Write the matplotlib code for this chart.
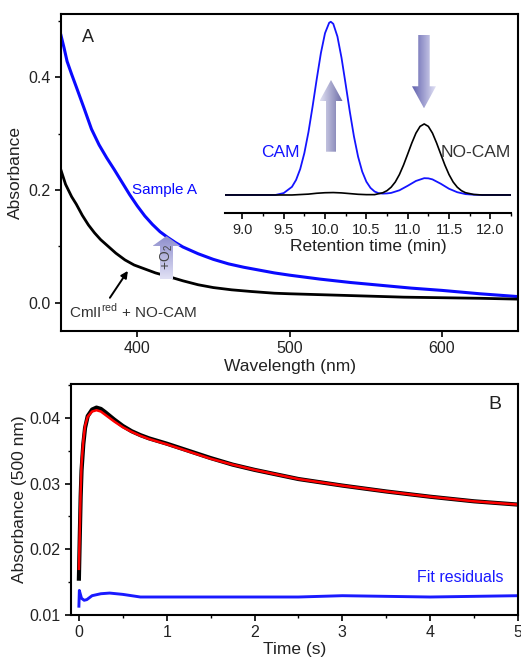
import numpy as np
import matplotlib
matplotlib.use("Agg")
import matplotlib.pyplot as plt
from matplotlib.patches import Polygon
from matplotlib.ticker import MultipleLocator

plt.rcParams['font.family'] = ['Liberation Sans', 'DejaVu Sans']

# ---------------- Panel A: spectra ----------------
wl_blue = [350, 352, 354, 357, 360, 365, 370, 375, 380, 385, 390, 395, 400, 405, 410,
           415, 420, 425, 430, 440, 450, 460, 470, 480, 490, 500, 520, 540, 560, 580,
           600, 625, 650]
abs_blue = [0.474, 0.452, 0.428, 0.405, 0.383, 0.346, 0.308, 0.280, 0.257, 0.236, 0.214,
            0.192, 0.172, 0.154, 0.139, 0.126, 0.116, 0.107, 0.099, 0.087, 0.077, 0.069,
            0.063, 0.058, 0.053, 0.049, 0.042, 0.036, 0.031, 0.026, 0.022, 0.016, 0.011]

wl_black = [350, 353, 357, 360, 364, 368, 372, 376, 381, 386, 392, 398, 405, 412, 420,
            430, 440, 450, 462, 475, 490, 500, 525, 550, 575, 600, 625, 650]
abs_black = [0.235, 0.210, 0.188, 0.175, 0.155, 0.138, 0.124, 0.112, 0.100, 0.088, 0.076,
             0.067, 0.060, 0.053, 0.047, 0.039, 0.032, 0.027, 0.023, 0.020, 0.017, 0.016,
             0.014, 0.012, 0.010, 0.009, 0.008, 0.0065]

# ---------------- Inset: HPLC traces (relative) ----------------
rt_blue = [8.80, 9.40, 9.50, 9.60, 9.65, 9.70, 9.75, 9.80, 9.85, 9.90, 9.95, 10.00, 10.05,
           10.07, 10.10, 10.15, 10.20, 10.25, 10.30, 10.35, 10.40, 10.45, 10.50, 10.55,
           10.60, 10.65, 10.70, 10.75, 10.80, 10.90, 11.00, 11.10, 11.20, 11.25, 11.30,
           11.40, 11.50, 11.60, 11.70, 11.80, 11.90, 12.25]
hplc_blue = [0.0, 0.0, 0.011, 0.047, 0.087, 0.150, 0.242, 0.364, 0.512, 0.670, 0.819, 0.934,
             0.994, 1.000, 0.988, 0.915, 0.791, 0.638, 0.481, 0.338, 0.221, 0.135, 0.077,
             0.041, 0.020, 0.010, 0.008, 0.009, 0.012, 0.027, 0.053, 0.081, 0.097, 0.096,
             0.090, 0.065, 0.036, 0.016, 0.005, 0.0015, 0.0, 0.0]

rt_black = [8.80, 9.60, 9.80, 9.90, 10.00, 10.10, 10.20, 10.30, 10.40, 10.50, 10.60, 10.70,
            10.75, 10.80, 10.85, 10.90, 10.95, 11.00, 11.05, 11.10, 11.15, 11.20, 11.25,
            11.30, 11.35, 11.40, 11.45, 11.50, 11.55, 11.60, 11.65, 11.70, 11.80, 11.90, 12.25]
hplc_black = [0.0, 0.0, 0.005, 0.010, 0.013, 0.014, 0.012, 0.008, 0.004, 0.002, 0.002, 0.013,
              0.025, 0.045, 0.075, 0.118, 0.173, 0.236, 0.300, 0.357, 0.396, 0.410, 0.396,
              0.357, 0.300, 0.236, 0.173, 0.118, 0.075, 0.045, 0.025, 0.013, 0.003, 0.0, 0.0]

# ---------------- Panel B: kinetics ----------------
t_data = [0.0, 0.01, 0.02, 0.03, 0.05, 0.07, 0.10, 0.15, 0.20, 0.25, 0.30, 0.40, 0.50,
          0.60, 0.70, 0.80, 1.00, 1.25, 1.50, 1.75, 2.00, 2.50, 3.00, 3.50, 4.00, 4.50, 5.00]
a_data = [0.0155, 0.0220, 0.0280, 0.0320, 0.0360, 0.0385, 0.0403, 0.0413, 0.0416, 0.0414,
          0.0409, 0.0398, 0.0388, 0.0380, 0.0374, 0.0369, 0.0361, 0.0350, 0.0339, 0.0329,
          0.0321, 0.0307, 0.0297, 0.0288, 0.0280, 0.0273, 0.0268]
t_fit = [0.0, 0.01, 0.02, 0.03, 0.05, 0.07, 0.10, 0.15, 0.20, 0.25, 0.30, 0.40, 0.50,
         0.60, 0.70, 0.80, 1.00, 1.25, 1.50, 1.75, 2.00, 2.50, 3.00, 3.50, 4.00, 4.50, 5.00]
a_fit = [0.0170, 0.0230, 0.0290, 0.0330, 0.0365, 0.0388, 0.0402, 0.0410, 0.0412, 0.0410,
         0.0405, 0.0395, 0.0386, 0.0379, 0.0373, 0.0368, 0.0360, 0.0349, 0.0338, 0.0329,
         0.0321, 0.0307, 0.0297, 0.0288, 0.0280, 0.0273, 0.0268]
t_res = [0.0, 0.005, 0.015, 0.03, 0.06, 0.09, 0.15, 0.25, 0.35, 0.50, 0.60, 0.70, 1.00,
         2.00, 2.50, 3.00, 3.50, 4.00, 4.50, 5.00]
a_res = [0.0113, 0.0137, 0.0132, 0.0125, 0.0122, 0.0123, 0.0129, 0.0132, 0.0133, 0.0131,
         0.0129, 0.0127, 0.0127, 0.0127, 0.0127, 0.0129, 0.0128, 0.0127, 0.0128, 0.0129]

TXT = '#222222'
W, H = 521, 662
fig = plt.figure(figsize=(W / 100, H / 100), dpi=100)


def style(ax, lw=1.5):
    for s in ax.spines.values():
        s.set_linewidth(lw)
    ax.tick_params(which='major', direction='out', length=4.5, width=1.2,
                   labelsize=11.5, colors='black', labelcolor=TXT, pad=3)
    ax.tick_params(which='minor', direction='out', length=2.5, width=1.0)


# ---- Panel A ----
axA = fig.add_axes([61 / W, 1 - 331 / H, 457 / W, 317 / H])
axA.plot(wl_blue, abs_blue, color='#0a0aff', lw=2.2)
axA.plot(wl_black, abs_black, color='black', lw=2.0)
axA.set_xlim(350, 650)
axA.set_ylim(-0.05, 0.512)
axA.set_xticks([400, 500, 600])
axA.set_yticks([0.0, 0.2, 0.4])
axA.yaxis.set_minor_locator(MultipleLocator(0.1))
style(axA)
axA.set_xlabel('Wavelength (nm)', fontsize=12.5, color=TXT, labelpad=2)
axA.set_ylabel('Absorbance', fontsize=12.5, color=TXT, labelpad=4)
axA.text(367.7, 0.470, 'A', fontsize=13, color=TXT, ha='center', va='center')
axA.text(396.4, 0.200, 'Sample A', fontsize=11, color='#0a0aff', ha='left', va='center')
axA.text(355.5, -0.027, r'CmII$^{\mathregular{red}}$ + NO-CAM', fontsize=11, color='#333333',
         ha='left', va='baseline')
axA.annotate('', xy=(393.9, 0.0566), xytext=(382.1, 0.0089),
             arrowprops=dict(arrowstyle='-|>', color='black', lw=1.4, mutation_scale=10,
                             shrinkA=0, shrinkB=0))

# ---- Inset ----
axI = fig.add_axes([225 / W, 1 - 213 / H, 286 / W, 198 / H])
axI.patch.set_alpha(0)
axI.plot(rt_blue, hplc_blue, color='#1414ff', lw=1.3)
axI.plot(rt_black, hplc_black, color='black', lw=1.2)
axI.set_xlim(8.79, 12.25)
axI.set_ylim(-0.104, 1.039)
for s in ['top', 'right', 'left']:
    axI.spines[s].set_visible(False)
axI.set_yticks([])
axI.set_xticks([9.0, 9.5, 10.0, 10.5, 11.0, 11.5, 12.0])
axI.xaxis.set_minor_locator(MultipleLocator(0.25))
style(axI)
axI.tick_params(labelsize=10.5, pad=3)
axI.set_xlabel('Retention time (min)', fontsize=12.5, color=TXT, labelpad=1)
axI.text(9.69, 0.248, 'CAM', fontsize=12.5, color='#1414ff', ha='right', va='center')
axI.text(11.40, 0.248, 'NO-CAM', fontsize=12.5, color='#333333', ha='left', va='center')

# ---- Panel B ----
axB = fig.add_axes([71 / W, 1 - 614.7 / H, 447 / W, 230.7 / H])
axB.plot(t_data, a_data, color='black', lw=3.0)
axB.plot(t_fit, a_fit, color='#ff0000', lw=1.8)
axB.plot(t_res, a_res, color='#1a1aff', lw=2.1)
axB.set_xlim(-0.09, 5.0)
axB.set_ylim(0.01, 0.0452)
axB.set_xticks([0, 1, 2, 3, 4, 5])
axB.set_yticks([0.01, 0.02, 0.03, 0.04])
axB.xaxis.set_minor_locator(MultipleLocator(0.5))
axB.yaxis.set_minor_locator(MultipleLocator(0.005))
style(axB)
axB.set_xlabel('Time (s)', fontsize=12.5, color=TXT, labelpad=1)
axB.set_ylabel('Absorbance (500 nm)', fontsize=12.5, color=TXT, labelpad=2)
axB.text(4.74, 0.0421, 'B', fontsize=14, color=TXT, ha='center', va='center')
axB.text(4.83, 0.0156, 'Fit residuals', fontsize=11.5, color='#1a1aff', ha='right',
         va='center')

# ---- Overlay for shaded arrows (pixel coordinates) ----
ov = fig.add_axes([0, 0, 1, 1], zorder=10)
ov.patch.set_alpha(0)
ov.axis('off')


def grad_arrow(xc, y_tail, y_tip, shaft_w, head_w, head_len, c_a, c_b, mode):
    d = np.sign(y_tip - y_tail)
    hb = y_tip - d * head_len
    verts = [(xc - shaft_w / 2, y_tail), (xc - shaft_w / 2, hb), (xc - head_w / 2, hb),
             (xc, y_tip), (xc + head_w / 2, hb), (xc + shaft_w / 2, hb),
             (xc + shaft_w / 2, y_tail)]
    poly = Polygon(verts, closed=True, facecolor='none', edgecolor='none')
    ov.add_patch(poly)
    n = 64
    ca = np.array(c_a)
    cb = np.array(c_b)
    if mode == 'h':
        f = np.linspace(0, 1, n)[None, :, None] * np.ones((n, 1, 1))
    else:
        f = np.linspace(0, 1, n)[:, None, None] * np.ones((1, n, 1))
    img = ca * (1 - f) + cb * f
    y0, y1 = min(y_tail, y_tip), max(y_tail, y_tip)
    im = ov.imshow(img, extent=(xc - head_w / 2, xc + head_w / 2, y1, y0),
                   aspect='auto', interpolation='bilinear', origin='upper')
    im.set_clip_path(poly)


# inset up arrow (light left -> dark right)
grad_arrow(331, 151.7, 80, 10, 23, 21, (0.88, 0.88, 0.95), (0.42, 0.42, 0.65), 'h')
# inset down arrow (dark left -> light right)
grad_arrow(424, 35, 108.3, 11.5, 24, 22, (0.38, 0.38, 0.68), (0.88, 0.88, 0.96), 'h')
# O2 arrow in panel A (dark top -> light bottom)
grad_arrow(166.5, 279.3, 236, 13, 28, 10, (0.55, 0.55, 0.80), (0.88, 0.88, 0.96), 'v')
ov.text(167, 257, r'+O$_\mathregular{2}$', rotation=90, fontsize=10, color='#444444',
        ha='center', va='center')
ov.set_xlim(0, W)
ov.set_ylim(H, 0)

fig.savefig('out.png', dpi=100)
